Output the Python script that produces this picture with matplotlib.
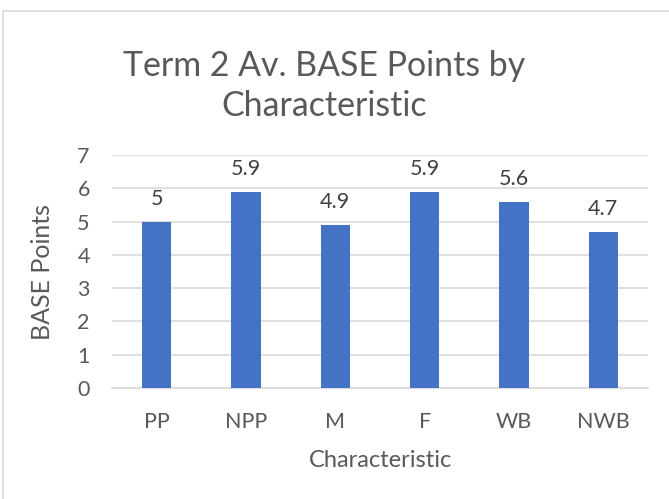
import matplotlib
matplotlib.use("Agg")
import matplotlib.pyplot as plt
from matplotlib.patches import Rectangle

categories = ["PP", "NPP", "M", "F", "WB", "NWB"]
values = [5, 5.9, 4.9, 5.9, 5.6, 4.7]
y_ticks = [0, 1, 2, 3, 4, 5, 6, 7]

plt.rcParams['font.family'] = ['Lato', 'DejaVu Sans']

W, H = 669, 499
fig = plt.figure(figsize=(W / 100, H / 100), dpi=100)

# chart border (cropped on the right and bottom)
fig.patches.append(Rectangle((3 / W, -0.1), 1.2, 0.1 + (H - 11) / H,
                             transform=fig.transFigure, fill=False,
                             edgecolor='#D9D9D9', linewidth=1.2))

ax = fig.add_axes([112 / W, (H - 388) / H, 536 / W, 233 / H])
x = range(len(categories))
ax.bar(x, values, width=0.33, color='#4472C4', zorder=3)

for xi, v in zip(x, values):
    ax.annotate(f"{v:g}", (xi, v), xytext=(0, 9), textcoords='offset points',
                ha='center', va='bottom', fontsize=15.5, color='#404040')

ax.set_xlim(-0.5, len(categories) - 0.5)
ax.set_ylim(0, 7)
ax.set_yticks(y_ticks)
ax.set_xticks(list(x))
ax.set_xticklabels(categories)
ax.grid(axis='y', color='#D9D9D9', linewidth=1.2, zorder=0)
ax.tick_params(axis='both', length=0, labelsize=15.5, colors='#595959')
ax.tick_params(axis='x', pad=17)
ax.tick_params(axis='y', pad=16)
for side in ['top', 'right', 'left']:
    ax.spines[side].set_visible(False)
ax.spines['bottom'].set_color('#D9D9D9')
ax.spines['bottom'].set_linewidth(1.2)

ax.set_xlabel("Characteristic", fontsize=17, color='#595959', labelpad=13)
ax.set_ylabel("BASE Points", fontsize=18, color='#595959', labelpad=17)

fig.text(324 / W, 1 - 86 / H, "Term 2 Av. BASE Points by\nCharacteristic",
         ha='center', va='center', fontsize=24.4, color='#595959',
         linespacing=1.3)

fig.savefig("out.png", dpi=100)
